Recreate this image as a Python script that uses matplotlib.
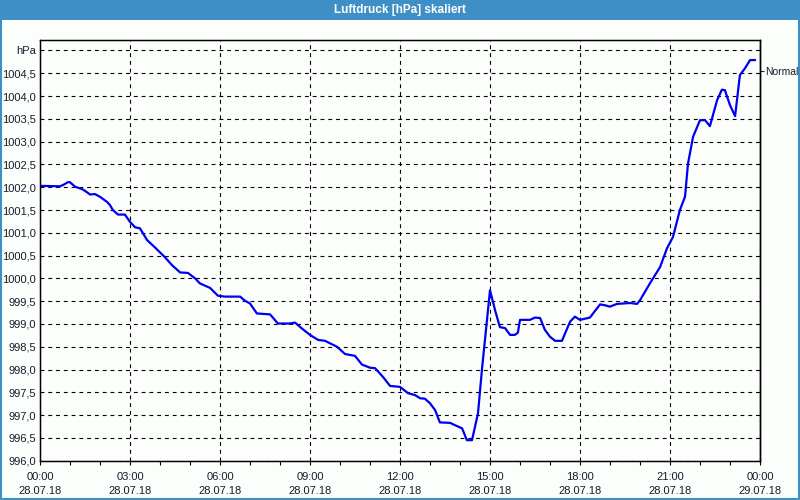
#!/usr/bin/env python3
# -*- coding: UTF-8 -*-
import matplotlib

matplotlib.use('Agg')
import matplotlib.pyplot as plt
from matplotlib.patches import Rectangle

plt.rcParams['font.family'] = ['Liberation Sans', 'DejaVu Sans']

# time in hours since 28.07.18 00:00, pressure in hPa
hours = [0.00, 0.67, 0.80, 0.93, 1.00, 1.17, 1.40, 1.50, 1.67, 1.83,
         2.00, 2.23, 2.33, 2.43, 2.60, 2.83, 3.00, 3.17, 3.33, 3.57,
         3.83, 4.17, 4.40, 4.67, 4.93, 5.17, 5.33, 5.67, 5.93, 6.17,
         6.67, 6.83, 7.00, 7.23, 7.67, 7.93, 8.33, 8.50, 8.73, 9.00,
         9.27, 9.50, 9.90, 10.17, 10.50, 10.73, 11.00, 11.17, 11.43, 11.67,
         12.00, 12.27, 12.50, 12.67, 12.83, 13.00, 13.17, 13.33, 13.67, 13.83,
         14.07, 14.23, 14.40, 14.60, 14.73, 15.00, 15.17, 15.33, 15.50, 15.67,
         15.83, 15.93, 16.00, 16.33, 16.50, 16.67, 16.83, 17.00, 17.17, 17.40,
         17.50, 17.67, 17.83, 18.00, 18.33, 18.67, 18.83, 19.00, 19.23, 19.67,
         19.90, 20.00, 20.33, 20.67, 20.90, 21.10, 21.33, 21.50, 21.60, 21.77,
         22.00, 22.17, 22.33, 22.57, 22.73, 22.83, 23.00, 23.17, 23.33, 23.50,
         23.67, 23.83]
pressure = [1002.03, 1002.02, 1002.06, 1002.11, 1002.11, 1002.01, 1001.96, 1001.92, 1001.84, 1001.85,
            1001.79, 1001.68, 1001.61, 1001.50, 1001.40, 1001.40, 1001.24, 1001.12, 1001.10, 1000.84,
            1000.68, 1000.46, 1000.29, 1000.13, 1000.12, 1000.00, 999.89, 999.79, 999.62, 999.60,
            999.60, 999.51, 999.45, 999.23, 999.21, 999.01, 999.01, 999.03, 998.90, 998.76,
            998.65, 998.63, 998.50, 998.34, 998.30, 998.11, 998.04, 998.03, 997.84, 997.64,
            997.62, 997.48, 997.44, 997.37, 997.36, 997.26, 997.11, 996.84, 996.83, 996.78,
            996.71, 996.45, 996.45, 997.04, 997.99, 999.74, 999.30, 998.93, 998.91, 998.76,
            998.76, 998.81, 999.09, 999.09, 999.14, 999.13, 998.87, 998.72, 998.63, 998.63,
            998.79, 999.05, 999.16, 999.09, 999.14, 999.43, 999.41, 999.38, 999.44, 999.46,
            999.44, 999.52, 999.89, 1000.25, 1000.66, 1000.91, 1001.50, 1001.79, 1002.52, 1003.11,
            1003.47, 1003.47, 1003.34, 1003.91, 1004.14, 1004.13, 1003.80, 1003.56, 1004.46, 1004.61,
            1004.79, 1004.79]

xtick_hours = [0, 3, 6, 9, 12, 15, 18, 21, 24]
xtick_labels = ['00:00\n28.07.18', '03:00\n28.07.18', '06:00\n28.07.18',
                '09:00\n28.07.18', '12:00\n28.07.18', '15:00\n28.07.18',
                '18:00\n28.07.18', '21:00\n28.07.18', '00:00\n29.07.18']
ytick_values = [996.0 + 0.5 * i for i in range(19)]
ytick_labels = [('%.1f' % v).replace('.', ',') for v in ytick_values[:-1]] + ['hPa']
normal_value = 1004.55
title = 'Luftdruck [hPa] skaliert'

bg = '#fcfefc'
frame_blue = '#3d8fc6'
text_col = '#1a1a2a'

fig = plt.figure(figsize=(8, 5), dpi=100, facecolor=bg)

# title bar and outer frame
fig.patches.append(Rectangle((0, 0.96), 1, 0.04, transform=fig.transFigure,
                             facecolor=frame_blue, edgecolor='none', zorder=0))
fig.patches.append(Rectangle((0.001, 0.002), 0.998, 0.996, transform=fig.transFigure,
                             facecolor='none', edgecolor=frame_blue, lw=1.5, zorder=1))
fig.text(0.5, 0.979, title, ha='center', va='center', color='white',
         fontsize=8.5, fontweight='bold')

ax = fig.add_axes([0.05, 0.0786, 0.9, 0.8414])
ax.set_facecolor(bg)
ax.plot(hours, pressure, color='#0000f0', lw=1.6, zorder=3)

ax.set_xlim(0, 24)
ax.set_ylim(996.0, 1005.23)

ax.set_xticks(xtick_hours)
ax.set_xticklabels(xtick_labels, fontsize=8, linespacing=1.5, color=text_col)
ax.set_xticks(range(25), minor=True)
ax.set_yticks(ytick_values)
ax.set_yticklabels(ytick_labels, fontsize=8, color=text_col)

ax.tick_params(axis='x', which='both', direction='out', length=3, width=0.8, pad=5)
ax.tick_params(axis='y', length=0, pad=3)

ax.grid(True, which='major', color='black', lw=0.8, linestyle=(0, (3.5, 3.5)))
for s in ax.spines.values():
    s.set_linewidth(1.0)
    s.set_color('black')

# "Normal" marker on the right side
ax2 = ax.twinx()
ax2.set_ylim(ax.get_ylim())
ax2.set_yticks([normal_value])
ax2.set_yticklabels(['Normal'], fontsize=7.5, color=text_col)
ax2.tick_params(axis='y', direction='out', length=3, width=0.8, pad=1, colors=text_col)
ax2.spines['right'].set_linewidth(1.0)

plt.savefig('out.png', dpi=100, facecolor=bg)
plt.close('all')
